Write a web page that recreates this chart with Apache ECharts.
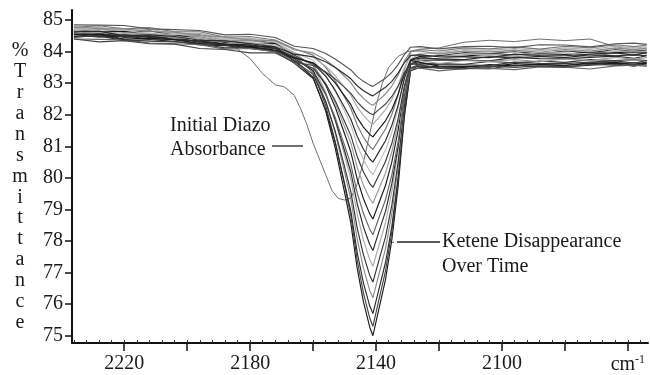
<!DOCTYPE html>
<html>
<head>
<meta charset="utf-8">
<script src="https://cdn.jsdelivr.net/npm/echarts@6/dist/echarts.min.js"></script>
<style>html,body{margin:0;padding:0;background:#fff;}#chart{width:650px;height:375px;}</style>
</head>
<body>
<div id="chart"></div>
<script>
// Wavenumber grid (cm-1) shared by the ketene spectra
const wavenumbers = [2236, 2228, 2220, 2212, 2204, 2196, 2188, 2180, 2172,
  2166, 2160, 2156, 2153, 2150, 2148, 2146, 2144, 2142, 2141, 2139, 2137, 2135, 2133, 2131, 2129, 2126,
  2120, 2112, 2104, 2096, 2088, 2080, 2072, 2064, 2058, 2054];

// % Transmittance of successive ketene spectra (deepest first)
const ketene01 = [84.60,84.51,84.55,84.45,84.44,84.30,84.27,84.16,84.16, 83.72,83.19,82.12,80.96,79.54,78.56,77.14,76.07,75.27,75.00,75.89,76.78,78.03,79.72,81.94,83.46,83.55, 83.52,83.50,83.59,83.55,83.60,83.56,83.65,83.62,83.65,83.62];
const ketene02 = [84.67,84.72,84.62,84.66,84.53,84.53,84.36,84.38,84.27, 83.88,83.35,82.30,81.16,79.76,78.80,77.40,76.35,75.56,75.30,76.18,77.05,78.28,79.94,82.13,83.61,83.80, 83.87,83.97,83.94,84.00,83.93,84.02,83.97,84.07,84.01,84.06];
const ketene03 = [84.48,84.50,84.35,84.38,84.33,84.21,84.19,84.10,84.00, 83.64,83.15,82.18,81.13,79.83,78.94,77.64,76.67,75.94,75.70,76.51,77.32,78.45,79.99,82.02,83.40,83.50, 83.49,83.48,83.46,83.57,83.53,83.52,83.57,83.61,83.54,83.62];
const ketene04 = [84.65,84.64,84.63,84.52,84.50,84.47,84.33,84.35,84.25, 83.84,83.38,82.44,81.43,80.18,79.32,78.07,77.14,76.43,76.20,76.98,77.76,78.85,80.33,82.28,83.61,83.76, 83.79,83.86,83.87,83.83,83.92,83.91,83.85,83.95,83.97,83.93];
const ketene05 = [84.55,84.46,84.50,84.40,84.39,84.25,84.22,84.11,84.11, 83.71,83.28,82.42,81.49,80.35,79.56,78.42,77.56,76.91,76.70,77.42,78.13,79.13,80.49,82.28,83.49,83.60, 83.62,83.60,83.69,83.65,83.70,83.66,83.75,83.72,83.75,83.72];
const ketene06 = [84.72,84.77,84.67,84.71,84.58,84.58,84.41,84.43,84.32, 83.96,83.55,82.72,81.82,80.72,79.96,78.86,78.03,77.41,77.20,77.89,78.58,79.55,80.86,82.58,83.76,83.93, 83.97,84.07,84.04,84.10,84.03,84.12,84.07,84.17,84.11,84.16];
const ketene07 = [84.58,84.60,84.45,84.48,84.43,84.31,84.29,84.20,84.10, 83.78,83.40,82.66,81.85,80.86,80.18,79.19,78.44,77.89,77.70,78.32,78.94,79.81,80.99,82.54,83.59,83.72, 83.74,83.73,83.71,83.82,83.78,83.77,83.82,83.86,83.79,83.87];
const ketene08 = [84.40,84.39,84.38,84.27,84.25,84.22,84.08,84.10,84.00, 83.64,83.31,82.64,81.92,81.03,80.42,79.53,78.87,78.37,78.20,78.76,79.31,80.09,81.14,82.53,83.47,83.48, 83.39,83.46,83.47,83.43,83.52,83.51,83.45,83.55,83.57,83.53];
const ketene09 = [84.70,84.61,84.65,84.55,84.54,84.40,84.37,84.26,84.26, 83.89,83.58,82.94,82.25,81.40,80.82,79.97,79.34,78.86,78.70,79.23,79.76,80.50,81.51,82.83,83.74,83.85, 83.87,83.85,83.94,83.90,83.95,83.91,84.00,83.97,84.00,83.97];
const ketene10 = [84.57,84.62,84.52,84.56,84.43,84.43,84.26,84.28,84.17, 83.86,83.57,83.00,82.38,81.62,81.10,80.34,79.77,79.34,79.20,79.68,80.15,80.82,81.72,82.91,83.71,83.72, 83.62,83.72,83.69,83.75,83.68,83.77,83.72,83.82,83.76,83.81];
const ketene11 = [84.45,84.52,84.38,84.33,84.31,84.25,84.12,84.14,84.03, 83.72,83.47,82.98,82.45,81.79,81.34,80.68,80.19,79.82,79.70,80.11,80.52,81.09,81.87,82.90,83.60,83.64, 83.59,83.58,83.56,83.67,83.63,83.62,83.67,83.71,83.64,83.72];
const ketene12 = [84.70,84.69,84.68,84.57,84.55,84.52,84.38,84.40,84.30, 83.97,83.73,83.26,82.75,82.11,81.68,81.05,80.57,80.22,80.10,80.50,80.89,81.44,82.19,83.18,83.85,83.95, 83.94,84.01,84.02,83.98,84.07,84.06,84.00,84.10,84.12,84.08];
const ketene13 = [84.56,84.55,84.49,84.49,84.38,84.34,84.23,84.22,84.11, 83.83,83.63,83.22,82.78,82.23,81.86,81.32,80.91,80.60,80.50,80.84,81.18,81.66,82.30,83.15,83.73,83.80, 83.77,83.75,83.84,83.80,83.85,83.81,83.90,83.87,83.90,83.87];
const ketene14 = [84.77,84.82,84.72,84.76,84.63,84.63,84.46,84.48,84.37, 84.09,83.89,83.50,83.08,82.56,82.20,81.68,81.29,81.00,80.90,81.23,81.55,82.01,82.62,83.44,83.99,84.06, 84.02,84.12,84.09,84.15,84.08,84.17,84.12,84.22,84.16,84.21];
const ketene15 = [84.53,84.55,84.40,84.43,84.38,84.26,84.24,84.15,84.05, 83.80,83.65,83.34,83.01,82.60,82.32,81.91,81.61,81.38,81.30,81.56,81.81,82.17,82.65,83.29,83.72,83.66, 83.54,83.53,83.51,83.62,83.58,83.57,83.62,83.66,83.59,83.67];
const ketene16 = [84.68,84.61,84.58,84.59,84.47,84.42,84.37,84.29,84.22, 83.95,83.82,83.54,83.24,82.87,82.62,82.25,81.98,81.77,81.70,81.93,82.16,82.48,82.92,83.49,83.89,83.90, 83.84,83.91,83.92,83.88,83.97,83.96,83.90,84.00,84.02,83.98];
const ketene17 = [84.40,84.31,84.35,84.25,84.24,84.10,84.07,83.96,83.96, 83.67,83.56,83.36,83.14,82.87,82.68,82.41,82.20,82.05,82.00,82.17,82.34,82.58,82.90,83.33,83.62,83.58, 83.47,83.45,83.54,83.50,83.55,83.51,83.60,83.57,83.60,83.57];
const ketene18 = [84.79,84.73,84.72,84.64,84.62,84.51,84.47,84.37,84.35, 84.06,83.96,83.74,83.51,83.22,83.02,82.73,82.52,82.35,82.30,82.48,82.66,82.91,83.25,83.70,84.01,84.02, 83.92,84.02,83.99,84.05,83.98,84.07,84.02,84.12,84.06,84.11];
const ketene19 = [84.63,84.65,84.50,84.53,84.48,84.36,84.34,84.25,84.15, 83.92,83.84,83.68,83.50,83.29,83.14,82.92,82.76,82.64,82.60,82.74,82.87,83.06,83.32,83.65,83.88,83.90, 83.84,83.83,83.81,83.92,83.88,83.87,83.92,83.96,83.89,83.97];
const ketene20 = [84.85,84.84,84.83,84.72,84.70,84.67,84.53,84.55,84.45, 84.17,84.10,83.94,83.77,83.56,83.42,83.21,83.06,82.94,82.90,83.03,83.16,83.34,83.59,83.91,84.14,84.16, 84.09,84.16,84.17,84.13,84.22,84.21,84.15,84.25,84.27,84.23];
const keteneSpectra = [ketene01, ketene02, ketene03, ketene04, ketene05, ketene06, ketene07, ketene08, ketene09, ketene10,
  ketene11, ketene12, ketene13, ketene14, ketene15, ketene16, ketene17, ketene18, ketene19, ketene20];

// Initial diazo spectrum
const diazoWavenumbers = [2236, 2228, 2220, 2212, 2204, 2196, 2188, 2184, 2180, 2176, 2172, 2169, 2166, 2164, 2162, 2160, 2158, 2156, 2154, 2152,
  2150, 2148, 2146, 2144, 2142, 2140, 2138, 2136, 2133, 2130, 2126, 2120, 2112, 2104, 2096, 2088, 2080, 2072, 2066, 2060, 2054];
const diazoTransmittance = [84.66, 84.58, 84.55, 84.50, 84.46, 84.40, 84.30, 84.08, 83.78, 83.30, 82.95, 82.88, 82.62, 82.20, 81.70, 81.10, 80.60, 80.10, 79.60, 79.35,
  79.30, 79.36, 79.80, 80.50, 81.40, 82.30, 83.00, 83.50, 83.85, 84.00, 84.08, 84.12, 84.30, 84.36, 84.32, 84.40, 84.35, 84.40, 84.22, 84.08, 84.02];

// Axis ticks and labels
const xMajorTicks = [2220, 2200, 2180, 2160, 2140, 2120, 2100, 2080, 2060];
const xTickLabels = [2220, 2180, 2140, 2100];
const xUnitTick = 2060;
const yTicks = [75, 76, 77, 78, 79, 80, 81, 82, 83, 84, 85];
const yAxisTitle = '%Transmittance';
const annotationDiazo = ['Initial Diazo', 'Absorbance'];
const annotationKetene = ['Ketene Disappearance', 'Over Time'];

// styles
const lineColors = ['#1a1a1a', '#444', '#2a2a2a', '#8a8a8a', '#333', '#aaa', '#2a2a2a', '#666', '#1a1a1a', '#999',
  '#3a3a3a', '#bdbdbd', '#2a2a2a', '#777', '#1a1a1a', '#aaa', '#444', '#888', '#2a2a2a', '#555'];
const FONT = '"Liberation Serif", "Times New Roman", serif';
const minorTicks = [];
for (let v = 2056; v <= 2236; v += 4) minorTicks.push(v);

const series = keteneSpectra.map((ys, i) => ({
  type: 'line', xAxisIndex: 0, yAxisIndex: 0,
  data: wavenumbers.map((x, j) => [x, ys[j]]),
  showSymbol: false, symbol: 'none', silent: true, animation: false,
  lineStyle: { width: 1.15, color: lineColors[i] }
}));
series.unshift({
  type: 'line', xAxisIndex: 0, yAxisIndex: 0,
  data: diazoWavenumbers.map((x, j) => [x, diazoTransmittance[j]]),
  showSymbol: false, symbol: 'none', silent: true, animation: false,
  lineStyle: { width: 1, color: '#6e6e6e' }
});

const chart = echarts.init(document.getElementById('chart'), null, { renderer: 'canvas' });
chart.setOption({
  backgroundColor: '#fff',
  animation: false,
  grid: { left: 72, right: 2, top: 10, bottom: 31, containLabel: false },
  xAxis: [{
    type: 'value', inverse: true, min: 2053.6, max: 2236.6, position: 'bottom',
    axisLine: { onZero: false, lineStyle: { color: '#111', width: 2 } },
    axisTick: { show: true, customValues: xMajorTicks, length: 8, lineStyle: { color: '#111', width: 1.5 } },
    axisLabel: {
      customValues: xTickLabels.concat([xUnitTick]), margin: 11,
      fontFamily: FONT, fontSize: 20, color: '#1a1a1a',
      formatter: v => v === xUnitTick ? '{a|cm}{b|-1}' : String(v),
      rich: { a: { fontFamily: FONT, fontSize: 20, color: '#1a1a1a' },
              b: { fontFamily: FONT, fontSize: 12, color: '#1a1a1a', verticalAlign: 'top', padding: [0, 0, 10, 0] } }
    },
    splitLine: { show: false }
  }, {
    type: 'value', inverse: true, min: 2053.6, max: 2236.6, position: 'bottom', offset: 0,
    axisLine: { show: false, onZero: false },
    axisTick: { show: true, customValues: minorTicks, inside: true, length: 3, lineStyle: { color: '#333', width: 1 } },
    axisLabel: { show: false }, splitLine: { show: false }
  }],
  yAxis: {
    type: 'value', min: 74.77, max: 85.32, position: 'left',
    axisLine: { onZero: false, lineStyle: { color: '#111', width: 2 } },
    axisTick: { show: true, customValues: yTicks, length: 7, lineStyle: { color: '#111', width: 1.5 } },
    axisLabel: { customValues: yTicks, margin: 9, fontFamily: FONT, fontSize: 20, color: '#1a1a1a' },
    splitLine: { show: false }
  },
  graphic: [
    { type: 'text', x: 20, y: 40.5, silent: true,
      style: { text: yAxisTitle.split('').join('\n'), font: '20px ' + FONT, lineHeight: 20.9, align: 'center', verticalAlign: 'top', fill: '#1a1a1a' } },
    { type: 'text', x: 170, y: 114, silent: true,
      style: { text: annotationDiazo.join('\n'), font: '20px ' + FONT, lineHeight: 24, align: 'left', verticalAlign: 'top', fill: '#1a1a1a' } },
    { type: 'line', silent: true, shape: { x1: 272, y1: 146, x2: 303, y2: 146 }, style: { stroke: '#222', lineWidth: 1.3 } },
    { type: 'text', x: 442, y: 229, silent: true,
      style: { text: annotationKetene.join('\n'), font: '20px ' + FONT, lineHeight: 25, align: 'left', verticalAlign: 'top', fill: '#1a1a1a' } },
    { type: 'line', silent: true, shape: { x1: 397, y1: 242, x2: 440, y2: 242 }, style: { stroke: '#222', lineWidth: 1.3 } },
    { type: 'circle', silent: true, shape: { cx: 393, cy: 242.5, r: 0.8 }, style: { fill: '#555' } }
  ],
  series: series
});
</script>
</body>
</html>
